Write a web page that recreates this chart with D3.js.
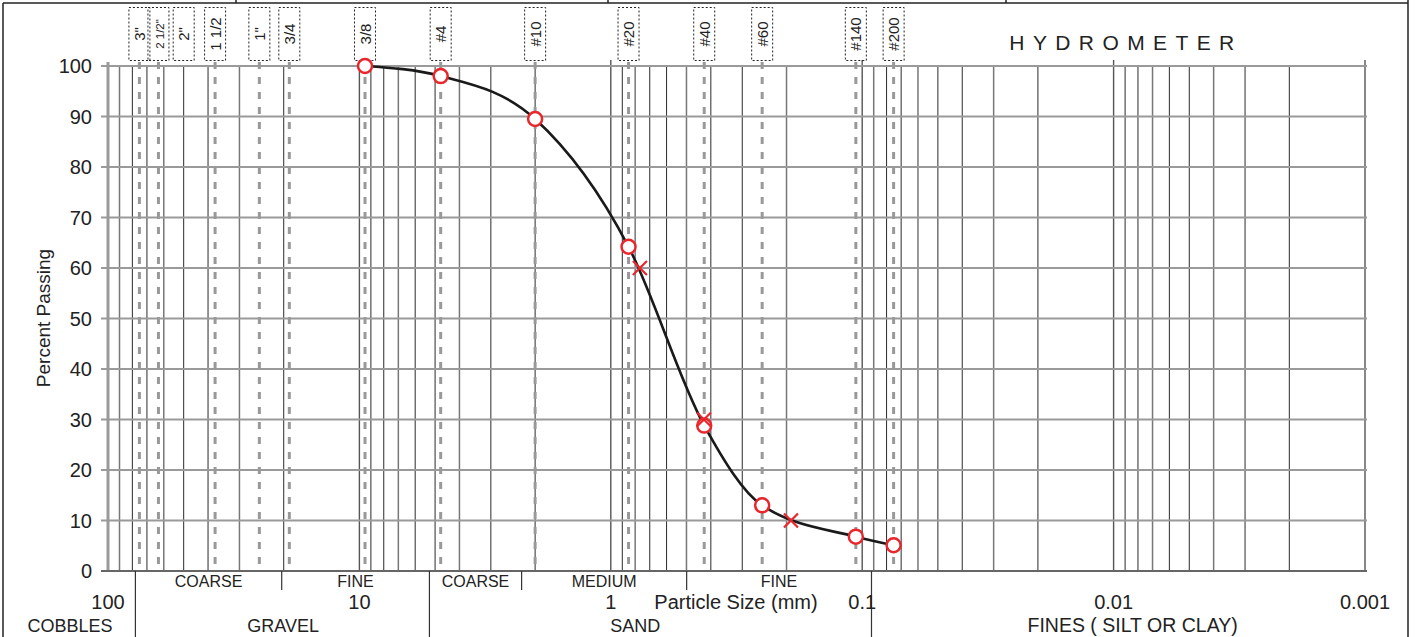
<!DOCTYPE html>
<html>
<head>
<meta charset="utf-8">
<script src="https://cdn.jsdelivr.net/npm/d3@7"></script>
<style>
  html, body { margin: 0; padding: 0; background: #fff; }
  svg { display: block; font-family: "Liberation Sans", Arial, sans-serif; }
</style>
</head>
<body>
<svg id="chart" width="1417" height="637"></svg>
<script>
// ---------- data ----------
const sieveLabels = ['3"', '2 1/2"', '2"', '1 1/2', '1"', '3/4', '3/8', '#4', '#10', '#20', '#40', '#60', '#140', '#200'];
const sieveSizes  = [75, 63, 50, 37.5, 25, 19, 9.5, 4.75, 2.0, 0.85, 0.425, 0.25, 0.106, 0.075];
const sieveDotted = [true, true, false, true, true, true, true, true, true, true, true, true, true, true];

const testSizes   = [9.5, 4.75, 2.0, 0.85, 0.425, 0.25, 0.106, 0.075];
const testPassing = [100, 98.0, 89.5, 64.2, 28.8, 13.0, 6.8, 5.1];

const dSizes   = [0.766, 0.426, 0.192];   // D60, D30, D10
const dPassing = [60, 30, 10];

const yTicks = [0, 10, 20, 30, 40, 50, 60, 70, 80, 90, 100];
const xTickValues = [100, 10, 1, 0.1, 0.01, 0.001];
const xTickLabels = ["100", "10", "1", "0.1", "0.01", "0.001"];

const majorBounds = [75, 4.75, 0.075];            // cobbles|gravel|sand|fines
const subBounds   = [19, 2.0, 0.425];             // coarse|fine gravel, coarse|medium|fine sand
const subLabels   = ["COARSE", "FINE", "COARSE", "MEDIUM", "FINE"];
const subLimits   = [[75, 19], [19, 4.75], [4.75, 2.0], [2.0, 0.425], [0.425, 0.075]];
const classLabels = ["COBBLES", "GRAVEL", "SAND", "FINES ( SILT OR CLAY)"];
const classAt     = [141.6, 20.1, 0.80, 0.0084];

// ---------- layout ----------
const svg = d3.select("#chart");
const pLeft = 108, pRight = 1365, pTop = 66, pBottom = 571;
const x = d3.scaleLog().domain([100, 0.001]).range([pLeft, pRight]);
const y = d3.scaleLinear().domain([0, 100]).range([pBottom, pTop]);
// classification band under the axis is drawn slightly compressed in the reference
const bandX = d3.scaleLog().domain([100, 0.001]).range([pLeft * 0.976 - 0.67, pRight * 0.976 - 0.67]);
const txt = "#222";
const red = "#e8262c";

// outer frame
svg.append("line").attr("x1", 3).attr("x2", 1408).attr("y1", 3).attr("y2", 3).attr("stroke", "#222").attr("stroke-width", 1.5);
svg.append("line").attr("x1", 3).attr("x2", 3).attr("y1", 3).attr("y2", 637).attr("stroke", "#222").attr("stroke-width", 1.5);
svg.append("line").attr("x1", 1408).attr("x2", 1408).attr("y1", 0).attr("y2", 637).attr("stroke", "#222").attr("stroke-width", 1.5);
[236, 608, 1006].forEach(px => {
  svg.append("line").attr("x1", px).attr("x2", px).attr("y1", 0).attr("y2", 3).attr("stroke", "#222").attr("stroke-width", 1.5);
});

// vertical log grid
const minorVals = [];
[100, 10, 1, 0.1, 0.01].forEach(dec => {
  for (let k = 1; k <= 9; k++) minorVals.push(dec / 10 * k);
});
const gridG = svg.append("g");
gridG.selectAll("line.minor").data(minorVals.filter(v => v < 100 && !xTickValues.some(t => Math.abs(t - v) < 1e-9)))
  .join("line").attr("class", "minor")
  .attr("x1", d => x(d)).attr("x2", d => x(d)).attr("y1", pTop).attr("y2", pBottom)
  .attr("stroke", (d, i) => i % 3 === 1 ? "#777" : "#2a2a2a").attr("stroke-width", (d, i) => i % 3 === 1 ? 1.5 : 1);
gridG.selectAll("line.decade").data(xTickValues.slice(1))
  .join("line").attr("class", "decade")
  .attr("x1", d => x(d)).attr("x2", d => x(d)).attr("y1", pTop - 6).attr("y2", pBottom)
  .attr("stroke", "#555").attr("stroke-width", 1.4);

// horizontal grid
gridG.selectAll("line.h").data(yTicks)
  .join("line").attr("class", "h")
  .attr("x1", pLeft - 7).attr("x2", pRight + 2).attr("y1", d => y(d)).attr("y2", d => y(d))
  .attr("stroke", "#9a9a9a").attr("stroke-width", 2.2);

// y axis line
svg.append("line").attr("x1", pLeft).attr("x2", pLeft).attr("y1", pTop - 4).attr("y2", pBottom)
  .attr("stroke", "#9a9a9a").attr("stroke-width", 3);
// x axis line
svg.append("line").attr("x1", pLeft - 7).attr("x2", pRight + 2).attr("y1", pBottom).attr("y2", pBottom)
  .attr("stroke", "#666").attr("stroke-width", 2);

// y tick labels
svg.selectAll("text.yt").data(yTicks).join("text").attr("class", "yt")
  .attr("x", 92).attr("y", d => y(d) + 7).attr("text-anchor", "end")
  .attr("font-size", 20).attr("fill", txt).text(d => d);

svg.append("text").attr("transform", `translate(50,${318}) rotate(-90)`)
  .attr("text-anchor", "middle").attr("font-size", 19).attr("fill", txt).text("Percent Passing");

// sieve dotted lines
const sieves = sieveLabels.map((l, i) => ({ label: l, size: sieveSizes[i], dotted: sieveDotted[i] }));
svg.selectAll("line.sv").data(sieves.filter(d => d.dotted)).join("line").attr("class", "sv")
  .attr("x1", d => x(d.size)).attr("x2", d => x(d.size)).attr("y1", pTop - 4).attr("y2", pBottom)
  .attr("stroke", "#999").attr("stroke-width", 3).attr("stroke-dasharray", "7,8");

// sieve label boxes
const boxG = svg.selectAll("g.sb").data(sieves).join("g").attr("class", "sb")
  .attr("transform", d => `translate(${x(d.size)},0)`);
boxG.append("rect").attr("x", -10.5).attr("y", 7.5).attr("width", 21).attr("height", 53)
  .attr("fill", "none").attr("stroke", "#222").attr("stroke-width", 1).attr("stroke-dasharray", "2,2");
boxG.append("text").attr("transform", "translate(5.5,34) rotate(-90)")
  .attr("text-anchor", "middle").attr("font-size", d => d.label.length >= 6 ? 11.5 : 15)
  .attr("fill", txt).text(d => d.label);

// hydrometer title
svg.append("text").attr("x", 1126).attr("y", 50).attr("text-anchor", "middle")
  .attr("font-size", 21).attr("letter-spacing", 8.4).attr("fill", txt).text("HYDROMETER");

// gradation curve
const pts = testSizes.map((s, i) => [x(s), y(testPassing[i])]);
svg.append("path").attr("d", d3.line().curve(d3.curveMonotoneX)(pts))
  .attr("fill", "none").attr("stroke", "#1a1a1a").attr("stroke-width", 2.6);

// test points
svg.selectAll("circle.pt").data(testSizes.map((s, i) => ({ s, p: testPassing[i] }))).join("circle")
  .attr("class", "pt").attr("cx", d => x(d.s)).attr("cy", d => y(d.p)).attr("r", 7)
  .attr("fill", "#fff").attr("stroke", red).attr("stroke-width", 2.5);

// D60/D30/D10 crosses
const crossG = svg.selectAll("g.dx").data(dSizes.map((s, i) => ({ s, p: dPassing[i] }))).join("g")
  .attr("class", "dx").attr("transform", d => `translate(${x(d.s)},${y(d.p)})`);
crossG.append("path").attr("d", "M-7,-7L7,7M-7,7L7,-7").attr("stroke", red).attr("stroke-width", 2.2);

// classification band
const bandG = svg.append("g");
bandG.selectAll("line.mb").data(majorBounds).join("line").attr("class", "mb")
  .attr("x1", d => bandX(d)).attr("x2", d => bandX(d)).attr("y1", pBottom).attr("y2", 637)
  .attr("stroke", "#333").attr("stroke-width", 1.2);
bandG.selectAll("line.sb").data(subBounds).join("line").attr("class", "sb")
  .attr("x1", d => bandX(d)).attr("x2", d => bandX(d)).attr("y1", pBottom).attr("y2", 590)
  .attr("stroke", "#333").attr("stroke-width", 1.2);
bandG.selectAll("text.sl").data(subLabels.map((l, i) => ({ l, a: subLimits[i][0], b: subLimits[i][1] })))
  .join("text").attr("class", "sl")
  .attr("x", d => (bandX(d.a) + bandX(d.b)) / 2).attr("y", 587).attr("text-anchor", "middle")
  .attr("font-size", 16).attr("fill", txt).text(d => d.l);

// x tick labels
svg.selectAll("text.xt").data(xTickValues).join("text").attr("class", "xt")
  .attr("x", d => x(d)).attr("y", 609).attr("text-anchor", "middle")
  .attr("font-size", 20).attr("fill", txt).text((d, i) => xTickLabels[i]);
svg.append("text").attr("x", 736).attr("y", 609).attr("text-anchor", "middle")
  .attr("font-size", 20).attr("fill", txt).text("Particle Size (mm)");

// class labels
svg.selectAll("text.cl").data(classLabels.map((l, i) => ({ l, at: classAt[i] }))).join("text").attr("class", "cl")
  .attr("x", d => x(d.at)).attr("y", 632).attr("text-anchor", "middle")
  .attr("font-size", d => d.l.length > 10 ? 19.5 : 18).attr("fill", txt).text(d => d.l);
</script>
</body>
</html>
